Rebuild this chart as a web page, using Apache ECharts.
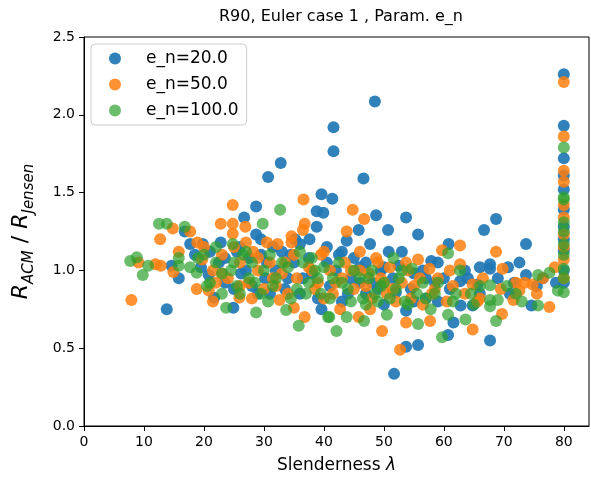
<!DOCTYPE html>
<html>
<head>
<meta charset="utf-8">
<script src="https://cdn.jsdelivr.net/npm/echarts@6/dist/echarts.min.js"></script>
<style>html,body{margin:0;padding:0;background:#fff}#c{width:591px;height:479px}</style>
</head>
<body>
<div id="c"></div>
<script>
const xTicks = [0, 10, 20, 30, 40, 50, 60, 70, 80];
const yTicks = [0, 0.5, 1.0, 1.5, 2.0, 2.5];
const seriesNames = ['e_n=20.0', 'e_n=50.0', 'e_n=100.0'];

const pts20 = [
[14.6,1.03],[13.8,0.75],[15.8,0.95],[16.8,1.25],[17.7,1.17],[19.8,1.17],[20.8,0.97],[18.5,1.10],
[21.7,0.825],[22.8,1.18],[22.5,1.05],[23.5,0.92],[24.9,0.76],[25.5,1.12],[26.7,1.34],[26.2,0.98],
[27.5,1.08],[28.7,1.41],[28.7,1.23],[29.5,1.20],[28.0,0.90],[29.0,0.85],[30.7,1.60],[30.5,1.05],
[31.5,1.15],[30.2,0.95],[32.8,1.69],[32.0,1.00],[33.5,0.88],[34.5,1.10],[35.2,1.20],[36.0,1.17],
[36.5,0.95],[37.6,1.20],[38.8,1.28],[38.8,1.38],[39.9,1.37],[39.6,1.49],[39.6,0.75],[40.5,1.05],
[41.4,1.46],[41.6,1.92],[41.6,1.765],[41.0,0.90],[42.5,1.10],[43.0,0.80],[43.8,1.19],[44.5,0.95],
[45.8,1.26],[46.6,1.59],[46.0,1.02],[47.7,1.17],[47.0,0.85],[48.5,2.085],[48.7,1.355],[48.0,0.92],
[49.5,1.00],[50.7,1.26],[50.8,1.12],[50.0,0.78],[51.7,0.335],[51.5,0.95],[52.5,1.03],[53.7,1.34],
[53.7,0.51],[53.7,0.74],[54.5,0.88],[55.7,1.23],[55.7,0.52],[55.0,0.98],[56.5,1.00],[57.9,1.06],
[57.0,0.82],[58.5,0.92],[59.0,0.80],[60.8,1.17],[60.7,0.585],[60.0,0.95],[61.6,0.665],[61.0,0.88],
[62.7,0.93],[62.8,0.775],[63.5,1.00],[64.8,0.775],[65.6,0.91],[66.7,1.26],[66.0,0.85],[67.7,1.04],
[67.7,1.01],[67.7,0.55],[68.7,1.33],[69.0,0.95],[70.7,1.02],[71.7,0.92],[72.6,1.05],[73.7,1.17],
[73.7,0.97],[74.6,0.775],[75.5,0.90],[76.5,0.95],[78.7,0.92],[80,2.26],[80,1.93],[80,1.72],
[80,1.61],[80,1.52],[80,1.39],[80,1.13],[80,0.92],[80,1.00],[80,1.20],[80,1.28],
[19.5,1.02],[21,1.12],[23.5,1.08],[25,0.88],[26,1.15],[27,1.00],[29.5,1.10],[31,0.85],[33,1.12],
[34,0.95],[35,1.05],[36,0.85],[37.5,1.08],[38,0.98],[39,0.82],[40.5,1.15],[42,1.00],[43,1.12],
[44,0.85],[45,1.08],[46,0.92],[47,1.05],[49,0.88],[50,1.02],[52,0.86],[53,1.12],[55,0.80],
[57,0.95],[59,1.05],[64,0.95],[66,1.02],[71,0.85]
];

const pts50 = [
[7.9,0.81],[9.1,1.05],[11.9,1.04],[12.8,1.03],[12.7,1.20],[14.8,1.27],[14.9,0.99],[15.8,1.12],
[17.7,1.25],[18.9,1.18],[18.8,0.88],[19.7,1.07],[20.8,0.87],[21.5,1.00],[22.8,1.30],[22.0,0.92],
[23.0,1.10],[24.8,1.42],[24.8,1.30],[24.8,1.235],[25.9,0.825],[24.0,0.95],[26.9,1.28],[26.0,1.05],
[27.5,0.92],[28.2,1.12],[29.0,1.00],[30.0,0.88],[30.5,1.18],[31.5,0.95],[32.3,1.17],[32.6,0.81],
[33.5,1.05],[34.6,1.22],[34.6,1.18],[35.0,0.76],[35.5,0.95],[36.6,1.455],[36.8,1.30],[36.5,1.26],
[36.8,0.70],[37.5,1.02],[38.5,0.88],[39.5,1.10],[40.0,0.82],[41.0,1.00],[42.7,0.75],[42.0,0.92],
[43.8,1.25],[43.5,1.05],[44.8,1.39],[45.0,0.88],[45.8,0.70],[46.7,1.33],[46.0,1.00],[47.7,0.75],
[47.0,0.90],[48.7,1.08],[48.0,0.82],[49.7,0.61],[49.5,0.95],[50.5,0.85],[51.0,1.02],[52.7,0.49],
[52.0,0.80],[53.7,1.05],[53.7,0.665],[53.0,0.92],[54.5,0.82],[55.7,1.07],[55.0,0.90],[56.5,0.78],
[57.6,1.01],[57.7,0.675],[58.5,0.88],[59.7,1.13],[59.0,0.95],[60.5,0.80],[61.5,0.90],[62.7,1.16],
[62.7,1.04],[63.5,0.85],[64.8,0.91],[64.8,0.62],[65.6,0.80],[66.5,0.95],[68.7,1.12],[69.5,0.88],
[69.8,1.01],[69.7,0.72],[71.6,0.81],[72.6,0.87],[73.5,0.92],[74.8,0.91],[75.5,0.85],[76.5,0.95],
[77.6,0.765],[78.5,1.02],[80,2.21],[80,1.86],[80,1.64],[80,1.57],[80,1.34],[80,1.23],[80,1.07],
[80,0.95],[80,1.15],[80,1.42],
[20,1.15],[21.5,0.80],[23,0.98],[25,1.15],[26,0.90],[27,1.18],[28,0.82],[29,1.08],[31,1.05],
[32,0.90],[33,0.98],[34,0.85],[35,1.10],[38,1.00],[39,0.92],[40,1.12],[41.5,0.85],[43,0.95],
[44.5,1.00],[46,1.12],[47.5,0.98],[49,1.05],[50,0.92],[51.5,0.88],[54,1.00],[56,0.95],[58,0.85],
[61,1.00],[66,0.82],[72,0.92]
];

const pts100 = [
[7.7,1.06],[8.8,1.085],[9.8,0.97],[10.7,1.03],[12.5,1.30],[13.8,1.30],[15.8,1.08],[15.8,1.03],
[16.8,1.28],[17.7,1.02],[18.8,0.985],[20.0,1.10],[21.0,0.92],[22.0,1.05],[23.7,0.76],[23.0,0.85],
[24.8,1.17],[24.5,1.00],[25.5,0.90],[26.5,1.10],[27.5,0.95],[28.7,0.73],[28.0,1.05],[29.8,1.30],
[29.5,0.85],[30.7,0.80],[31.0,1.10],[32.7,1.39],[32.0,0.95],[33.7,0.745],[34.0,1.02],[35.8,0.645],
[35.5,0.88],[36.5,1.05],[37.5,0.92],[38.5,1.00],[39.5,0.85],[40.7,0.70],[40.9,0.70],[41.5,0.95],
[42.1,0.61],[42.5,1.05],[43.8,0.70],[44.0,0.88],[45.0,1.00],[46.7,0.675],[46.5,0.82],[47.5,0.95],
[48.5,0.85],[49.5,0.90],[50.5,0.715],[51.6,1.08],[51.0,0.82],[52.5,0.95],[53.5,0.80],[54.7,1.01],
[55.7,0.655],[55.5,0.85],[56.5,0.92],[57.8,0.75],[58.5,0.85],[59.7,0.57],[60.7,1.11],[60.7,0.715],
[61.5,0.80],[62.7,1.00],[63.6,0.685],[64.5,0.85],[66.0,0.90],[67.7,0.77],[67.7,0.81],[67.7,0.905],
[68.7,0.675],[69.0,0.81],[70.5,0.90],[72.0,0.85],[73.0,0.80],[75.7,0.97],[75.7,0.775],[77.6,0.985],
[79.0,0.87],[80,0.86],[80,1.01],[80,1.17],[80,1.31],[80,1.455],[80,1.47],[80,1.79],[80,1.10],
[80,1.25],[80,0.95],
[19,1.08],[20.5,0.90],[22,1.15],[23,0.98],[25,1.05],[26,0.85],[27,1.12],[28.5,0.92],[30,1.00],
[31.5,0.90],[33,1.05],[34.5,0.82],[36,1.12],[37,0.85],[38,1.08],[39,0.95],[40,1.02],[41,0.82],
[43,0.92],[44.5,0.80],[46,0.95],[47,0.78],[48,1.00],[49,0.80],[50,0.92],[52,0.88],[53,1.00],
[54,0.78],[57,0.82],[59,0.92],[62,0.85],[65,0.78]
];

const colors = ['#1f77b4', '#ff7f0e', '#2ca02c'];
const opacities = [0.92, 0.85, 0.7];
const FONT = 'DejaVu Sans';

const chart = echarts.init(document.getElementById('c'), null, {renderer: 'canvas'});
const mk = (name, data, color, op) => ({
  name, type: 'scatter', data, symbol: 'circle', symbolSize: 12,
  itemStyle: {color, opacity: op}, emphasis: {disabled: true}, animation: false
});

chart.setOption({
  animation: false,
  title: {
    text: 'R90, Euler case 1 , Param. e_n',
    left: 336, top: 4, textAlign: 'center',
    textStyle: {fontFamily: FONT, fontSize: 16, fontWeight: 'normal', color: '#000'}
  },
  legend: {
    orient: 'vertical', left: 91, top: 44,
    data: seriesNames,
    itemWidth: 12, itemHeight: 12, itemGap: 9,
    padding: [6, 8, 6, 18],
    backgroundColor: 'rgba(255,255,255,0.8)', borderColor: '#cccccc', borderWidth: 1, borderRadius: 4,
    textStyle: {fontFamily: FONT, fontSize: 17, color: '#000', padding: [0, 0, 0, 20]}
  },
  grid: {left: 84, right: 2, top: 37, bottom: 52, show: true, borderColor: '#000', borderWidth: 1, containLabel: false},
  xAxis: {
    type: 'value', min: 0, max: 84.2,
    name: '{n|Slenderness }{i|λ}', nameLocation: 'middle', nameGap: 31,
    nameTextStyle: {rich: {n: {fontFamily: FONT, fontSize: 17, color: '#000'}, i: {fontFamily: FONT, fontSize: 17, fontStyle: 'italic', color: '#000'}}},
    axisLine: {show: true, onZero: false, lineStyle: {color: '#000', width: 1}},
    axisTick: {show: true, inside: false, length: 5, lineStyle: {color: '#000'}, customValues: xTicks},
    axisLabel: {fontFamily: FONT, fontSize: 14, color: '#000', margin: 9, customValues: xTicks, formatter: v => String(v)},
    splitLine: {show: false}
  },
  yAxis: {
    type: 'value', min: 0, max: 2.5, interval: 0.5,
    name: '{i|R}{s|ACM}{n| / }{i|R}{s|Jensen}', nameLocation: 'middle', nameGap: 47, nameRotate: 90,
    nameTextStyle: {rich: {
      i: {fontFamily: FONT, fontSize: 22, fontStyle: 'italic', color: '#000', lineHeight: 32, verticalAlign: 'middle'},
      s: {fontFamily: FONT, fontSize: 15, fontStyle: 'italic', color: '#000', lineHeight: 32, verticalAlign: 'bottom'},
      n: {fontFamily: FONT, fontSize: 22, color: '#000', lineHeight: 32, verticalAlign: 'middle'}
    }},
    axisLine: {show: true, onZero: false, lineStyle: {color: '#000', width: 1}},
    axisTick: {show: true, inside: false, length: 5, lineStyle: {color: '#000'}, customValues: yTicks},
    axisLabel: {fontFamily: FONT, fontSize: 14, color: '#000', margin: 9, customValues: yTicks, formatter: v => v.toFixed(1)},
    splitLine: {show: false}
  },
  series: [
    mk(seriesNames[0], pts20, colors[0], opacities[0]),
    mk(seriesNames[1], pts50, colors[1], opacities[1]),
    mk(seriesNames[2], pts100, colors[2], opacities[2])
  ]
});
</script>
</body>
</html>
